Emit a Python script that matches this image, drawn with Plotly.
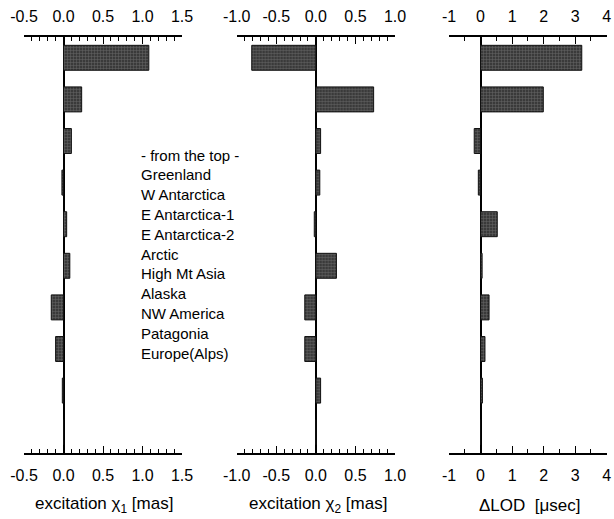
import plotly.graph_objects as go

regions = ["Greenland", "W Antarctica", "E Antarctica-1", "E Antarctica-2", "Arctic",
           "High Mt Asia", "Alaska", "NW America", "Patagonia", "Europe(Alps)"]
chi1 = [1.08, 0.23, 0.10, -0.02, 0.04, 0.08, -0.155, -0.10, -0.015, 0.0]
chi2 = [-0.81, 0.73, 0.06, 0.05, -0.02, 0.26, -0.14, -0.14, 0.06, 0.0]
dlod = [3.21, 1.99, -0.20, -0.07, 0.53, 0.05, 0.27, 0.14, 0.06, 0.0]

ticks1 = [-0.5, 0.0, 0.5, 1.0, 1.5]
ticktext1 = ["-0.5", "0.0", "0.5", "1.0", "1.5"]
ticks2 = [-1.0, -0.5, 0.0, 0.5, 1.0]
ticktext2 = ["-1.0", "-0.5", "0.0", "0.5", "1.0"]
ticks3 = [-1, 0, 1, 2, 3, 4]
ticktext3 = ["-1", "0", "1", "2", "3", "4"]

legend_lines = ["- from the top -"] + regions
titles = ["excitation χ<sub>1</sub> [mas]", "excitation χ<sub>2</sub> [mas]", "ΔLOD  [μsec]"]

FONT = "Liberation Sans, Arial, sans-serif"
W, H = 614, 519

panels = [
    (chi1, ticks1, ticktext1, [-0.5, 1.5], 0.1, (24, 182)),
    (chi2, ticks2, ticktext2, [-1.0, 1.0], 0.1, (236.7, 395)),
    (dlod, ticks3, ticktext3, [-1, 4], 0.5, (449, 606.7)),
]

ytop, ybot = 37, 453
ydom = [1 - ybot / H, 1 - ytop / H]

fig = go.Figure()
layout = dict(
    template="none",
    width=W, height=H, margin=dict(l=0, r=0, t=0, b=0, pad=0),
    plot_bgcolor="white", paper_bgcolor="white",
    showlegend=False, bargap=0.4,
    font=dict(family=FONT, size=15, color="black"),
)

for i, (vals, tv, tt, rng, mdt, (x0, x1)) in enumerate(panels):
    n = i + 1
    xb = "x" if n == 1 else f"x{n}"
    yb = "y" if n == 1 else f"y{n}"
    xt_n = n + 3
    fig.add_trace(go.Bar(
        x=vals, y=regions, orientation="h", xaxis=xb, yaxis=yb,
        marker=dict(color="#444444", line=dict(color="#111111", width=1),
                    pattern=dict(shape="+", size=3, solidity=0.3, fgcolor="#666666", bgcolor="#3a3a3a")),
        width=0.6, hoverinfo="x+y",
    ))
    # invisible trace for the top axis
    fig.add_trace(go.Bar(
        x=vals, y=regions, orientation="h", xaxis=f"x{xt_n}", yaxis=yb,
        marker=dict(color="rgba(0,0,0,0)"), width=0.6, hoverinfo="skip",
    ))
    dom = [x0 / W, x1 / W]
    common = dict(
        domain=dom, range=rng, tickvals=tv, ticktext=tt, automargin=False,
        showgrid=False, showline=True, linecolor="black", linewidth=1.5,
        ticks="inside", ticklen=7, tickwidth=1.3, tickcolor="black",
        ticklabelstandoff=7,
        minor=dict(dtick=mdt, tick0=0, ticks="inside", ticklen=4, tickwidth=1.2,
                   tickcolor="black", showgrid=False),
        tickfont=dict(family=FONT, size=16, color="black"),
        fixedrange=True,
    )
    layout["xaxis" if n == 1 else f"xaxis{n}"] = dict(
        **common, anchor=yb, side="bottom",
        zeroline=True, zerolinecolor="black", zerolinewidth=1.5,
    )
    layout[f"xaxis{xt_n}"] = dict(
        **common, anchor=yb, side="top", overlaying=xb, zeroline=False,
    )
    layout["yaxis" if n == 1 else f"yaxis{n}"] = dict(
        domain=ydom, anchor=xb, visible=False, type="category", automargin=False,
        categoryorder="array", categoryarray=regions,
        range=[len(regions) - 0.5, -0.5], fixedrange=True,
    )

annotations = []
for k, line in enumerate(legend_lines):
    yc = 155 + k * 19.8
    annotations.append(dict(
        text=line, xref="paper", yref="paper", x=139 / W, y=1 - yc / H,
        xanchor="left", yanchor="middle", showarrow=False,
        font=dict(family=FONT, size=15, color="black"),
    ))
title_x = [104, 318, 529]
for t, xc in zip(titles, title_x):
    annotations.append(dict(
        text=t, xref="paper", yref="paper", x=xc / W, y=1 - 505 / H,
        xanchor="center", yanchor="middle", showarrow=False,
        font=dict(family=FONT, size=17, color="black"),
    ))
layout["annotations"] = annotations

fig.update_layout(**layout)
fig.write_html("out.html", config={"displayModeBar": False},
               post_script="document.body.style.margin='0';document.body.style.overflow='hidden';")
